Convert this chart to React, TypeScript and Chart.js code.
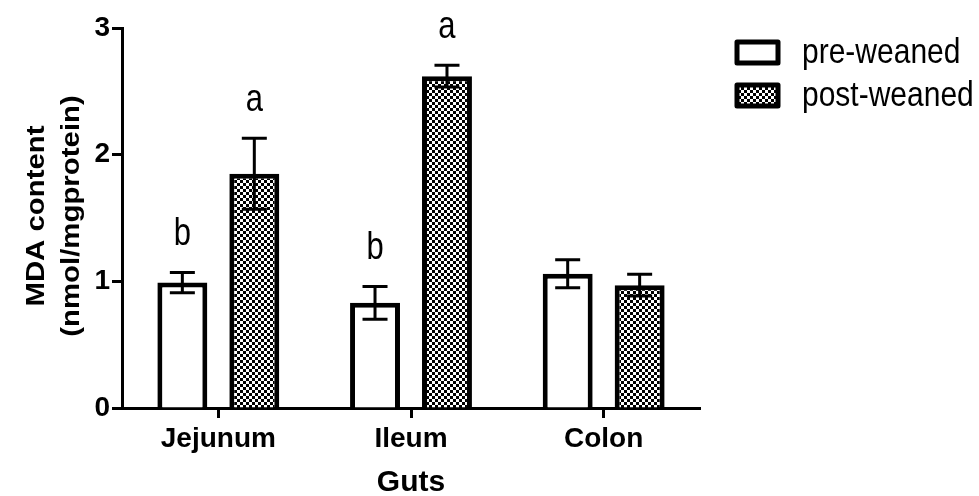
import React, { useEffect, useRef } from "react";
import { Chart, registerables } from "chart.js";

Chart.register(...registerables);

const categories = ["Jejunum", "Ileum", "Colon"];
const seriesNames = ["pre-weaned", "post-weaned"];
const preWeaned = [0.99, 0.83, 1.06];
const preWeanedErr = [0.08, 0.13, 0.11];
const postWeaned = [1.85, 2.62, 0.97];
const postWeanedErr = [0.28, 0.085, 0.085];
const preLetters = ["b", "b", ""];
const postLetters = ["a", "a", ""];
const yTicks = [0, 1, 2, 3];
const yTitle = ["MDA content", "(nmol/mgprotein)"];
const xTitle = "Guts";

const FONT = "'Liberation Sans', Arial, Helvetica, sans-serif";

function makePattern(ctx: CanvasRenderingContext2D): CanvasPattern | string {
  const c = document.createElement("canvas");
  c.width = 6;
  c.height = 6;
  const p = c.getContext("2d");
  if (!p) return "#777";
  p.fillStyle = "#ffffff";
  p.fillRect(0, 0, 6, 6);
  p.fillStyle = "#000000";
  p.fillRect(0, 0, 3, 3);
  p.fillRect(3, 3, 3, 3);
  return ctx.createPattern(c, "repeat") || "#777";
}

export default function App() {
  const ref = useRef<HTMLCanvasElement | null>(null);

  useEffect(() => {
    const canvas = ref.current;
    if (!canvas) return;
    const ctx = canvas.getContext("2d");
    if (!ctx) return;
    const pattern = makePattern(ctx);
    const errs = [preWeanedErr, postWeanedErr];
    const letters = [preLetters, postLetters];

    const errorBars = {
      id: "errorBars",
      afterDatasetsDraw(chart: any) {
        const c = chart.ctx;
        const y = chart.scales.y;
        c.save();
        c.strokeStyle = "#000";
        c.lineWidth = 3;
        chart.data.datasets.forEach((ds: any, i: number) => {
          const meta = chart.getDatasetMeta(i);
          meta.data.forEach((bar: any, j: number) => {
            const v = ds.data[j];
            const e = errs[i][j];
            const top = y.getPixelForValue(v + e);
            const bot = y.getPixelForValue(v - e);
            const x = bar.x;
            const hw = 12.5;
            c.beginPath();
            c.moveTo(x, top);
            c.lineTo(x, bot);
            c.moveTo(x - hw, top);
            c.lineTo(x + hw, top);
            c.moveTo(x - hw, bot);
            c.lineTo(x + hw, bot);
            c.stroke();
          });
        });
        c.font = `31px ${FONT}`;
        c.fillStyle = "#000";
        c.textAlign = "center";
        c.textBaseline = "alphabetic";
        chart.data.datasets.forEach((ds: any, i: number) => {
          const meta = chart.getDatasetMeta(i);
          meta.data.forEach((bar: any, j: number) => {
            const t = letters[i][j];
            if (!t) return;
            const top = y.getPixelForValue(ds.data[j] + errs[i][j]);
            c.save();
            c.translate(bar.x, top - 27);
            c.scale(1, 1.25);
            c.fillText(t, 0, 0);
            c.restore();
          });
        });
        c.restore();
      },
    };

    const yTitlePlugin = {
      id: "yTitlePlugin",
      afterDraw(chart: any) {
        const c = chart.ctx;
        const area = chart.chartArea;
        const cy = (area.top + area.bottom) / 2 - 2;
        const baselines = [44, 79];
        c.save();
        c.fillStyle = "#000";
        c.font = `bold 26px ${FONT}`;
        c.textAlign = "center";
        c.textBaseline = "alphabetic";
        yTitle.forEach((line, k) => {
          c.save();
          c.translate(baselines[k], cy);
          c.rotate(-Math.PI / 2);
          c.scale(1.13, 1);
          c.fillText(line, 0, 0);
          c.restore();
        });
        c.restore();
      },
    };

    const customLegend = {
      id: "customLegend",
      afterDraw(chart: any) {
        const c = chart.ctx;
        c.save();
        chart.data.datasets.forEach((ds: any, i: number) => {
          const bx = 737;
          const by = 42 + i * 43;
          c.fillStyle = ds.backgroundColor;
          c.fillRect(bx, by, 41, 21);
          c.strokeStyle = "#000";
          c.lineWidth = 5;
          c.lineJoin = "round";
          c.strokeRect(bx, by, 41, 21);
          c.fillStyle = "#000";
          c.font = `30px ${FONT}`;
          c.textAlign = "left";
          c.textBaseline = "middle";
          c.save();
          c.translate(802, by + 11);
          c.scale(1, 1.15);
          c.fillText(ds.label, 0, 0);
          c.restore();
        });
        c.restore();
      },
    };

    const chart = new Chart(canvas, {
      type: "bar",
      data: {
        labels: categories,
        datasets: [
          {
            label: seriesNames[0],
            data: preWeaned,
            backgroundColor: "#ffffff",
            borderColor: "#000000",
            borderWidth: 5,
            borderSkipped: "start",
            categoryPercentage: 0.747,
            barPercentage: 0.694,
          },
          {
            label: seriesNames[1],
            data: postWeaned,
            backgroundColor: pattern as any,
            borderColor: "#000000",
            borderWidth: 5,
            borderSkipped: "start",
            categoryPercentage: 0.747,
            barPercentage: 0.694,
          },
        ],
      },
      options: {
        responsive: false,
        animation: false,
        layout: { padding: { top: 28, right: 279, left: 0, bottom: 0 } },
        plugins: {
          legend: { display: false },
          tooltip: { enabled: false },
        },
        scales: {
          x: {
            type: "category",
            grid: {
              display: true,
              drawOnChartArea: false,
              drawTicks: true,
              tickLength: 10,
              tickColor: "#000",
              tickWidth: 3,
              offset: false,
            },
            border: { display: true, color: "#000", width: 3 },
            ticks: {
              color: "#000",
              font: { family: FONT, size: 28, weight: "bold" },
              padding: 4,
              maxRotation: 0,
            },
            title: {
              display: true,
              text: xTitle,
              color: "#000",
              font: { family: FONT, size: 30, weight: "bold", lineHeight: 0.9 },
              padding: { top: 0, bottom: 0 },
            },
            afterFit(scale: any) {
              scale.height = 88;
            },
          },
          y: {
            min: 0,
            max: 3,
            grid: {
              display: true,
              drawOnChartArea: false,
              drawTicks: true,
              tickLength: 10,
              tickColor: "#000",
              tickWidth: 3,
            },
            border: { display: true, color: "#000", width: 3 },
            afterBuildTicks(scale: any) {
              scale.ticks = yTicks.map((v) => ({ value: v }));
            },
            ticks: {
              color: "#000",
              font: { family: FONT, size: 28, weight: "bold" },
              padding: 2,
            },
            title: { display: false },
            afterFit(scale: any) {
              scale.width = 122;
            },
          },
        },
      },
      plugins: [errorBars, yTitlePlugin, customLegend],
    });

    return () => chart.destroy();
  }, []);

  return (
    <div style={{ position: "fixed", left: 0, top: 0, width: 979, height: 496, background: "#fff" }}>
      <canvas ref={ref} width={979} height={496} />
    </div>
  );
}
